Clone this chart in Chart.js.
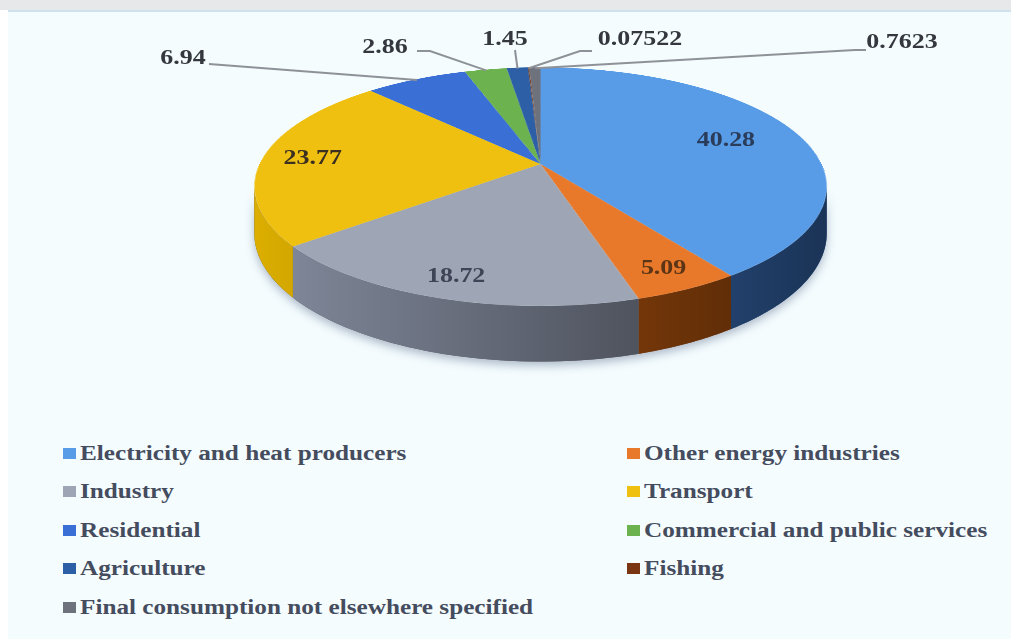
<!DOCTYPE html>
<html>
<head>
<meta charset="utf-8">
<title>CO2 emissions by sector</title>
<script src="https://cdn.jsdelivr.net/npm/chart.js@4.4.1/dist/chart.umd.min.js"></script>
<style>
    html, body { margin: 0; padding: 0; background: #fff; }
    body { width: 1011px; height: 639px; position: relative; overflow: hidden; font-family: "Liberation Serif", "Times New Roman", serif; }
    #strip { position: absolute; left: 0; top: 0; width: 1011px; height: 10px; background: #e7e8e9; }
    #panel { position: absolute; left: 8px; top: 10px; right: 0; bottom: 0; background: #f4fcfe; border-top: 2px solid #cfe0ee; }
    #chart-box { position: absolute; left: 0; top: 0; width: 1011px; height: 420px; }
    .item { position: absolute; display: flex; align-items: center; height: 24px; white-space: nowrap; }
    .swatch { width: 13px; height: 11px; margin-right: 4px; flex: none; }
    .text { font-weight: bold; font-size: 20px; color: #444c5e; transform: scaleX(1.26); transform-origin: left center; }
</style>
</head>
<body>
<div id="strip"></div>
<div id="panel"></div>
<div id="chart-box"><canvas id="chart"></canvas></div>
<div id="legend"></div>

<script>
const sectors = [
    'Electricity and heat producers',
    'Other energy industries',
    'Industry',
    'Transport',
    'Residential',
    'Commercial and public services',
    'Agriculture',
    'Fishing',
    'Final consumption not elsewhere specified',
];
const shares = [40.28, 5.09, 18.72, 23.77, 6.94, 2.86, 1.45, 0.07522, 0.7623];

const topColors = ['#589be6', '#e8782a', '#9ea6b6', '#efc010', '#3a6fd6', '#6cb24e', '#2c5fa6', '#7a3612', '#6e727c'];
const sideColors = ['#4280d6', '#c15b0f', '#838b9d', '#dcae00', '#2d58b0', '#4f8a36', '#1f4a86', '#5a280c', '#51555e'];
const insideInk = ['#2a3c5a', '#5b3515', '#3f4557', '#3c3020'];

// where each value label goes: inside at a fraction of the radius, or outside with a leader
const labelSpots = [
    { inside: 0.72 },
    { inside: 0.86 },
    { inside: 0.86 },
    { inside: 0.82 },
    { x: 183, y: 58, lead: [[209, 64]] },
    { x: 385, y: 47, lead: [[417, 51], [430, 51]] },
    { x: 505, y: 39, lead: [[515, 50]] },
    { x: 640, y: 39, lead: [[592, 51], [580, 51]] },
    { x: 902, y: 42, lead: [[866, 50], [855, 50]] },
];

// tilt of the pie: half width, half height, perspective and wall depth
const view = { spreadX: 281, spreadY: 115, persp: 0.19, depth: 45 };

const legendCols = [63, 627];
const legendRows = [453, 491.5, 530, 568.5, 607];

function project(arc, angle, frac, drop) {
    const X = frac * Math.cos(angle);
    const Z = -frac * Math.sin(angle);
    const s = 1 / (1 + view.persp * Z);
    return {
        x: arc.x + view.spreadX * X * s,
        y: arc.y - view.spreadY * Z * s + drop * view.depth * s,
    };
}

function wallPath(ctx, arc, a0, a1) {
    const n = 48;
    ctx.beginPath();
    for (let j = 0; j <= n; j++) {
        const p = project(arc, a0 + (a1 - a0) * j / n, 1, 0);
        j ? ctx.lineTo(p.x, p.y) : ctx.moveTo(p.x, p.y);
    }
    for (let j = n; j >= 0; j--) {
        const p = project(arc, a0 + (a1 - a0) * j / n, 1, 1);
        ctx.lineTo(p.x, p.y);
    }
    ctx.closePath();
}

const tiltedPie = {
    id: 'tiltedPie',
    beforeDatasetsDraw(chart) {
        const arcs = chart.getDatasetMeta(0).data;
        const ctx = chart.ctx;
        const c = arcs[0];
        const R = c.outerRadius;
        const k = view.persp, A = view.spreadY, B = view.spreadX;

        // flat pie drawn by the arc elements themselves
        const off = document.createElement('canvas');
        off.width = off.height = Math.ceil(2 * R);
        const octx = off.getContext('2d');
        octx.translate(R - c.x, R - c.y);
        arcs.forEach(a => a.draw(octx));

        // front walls
        const lo = Math.asin(k), hi = Math.PI - lo;
        ctx.save();
        wallPath(ctx, c, lo, hi);
        ctx.shadowColor = 'rgba(40, 60, 100, 0.35)';
        ctx.shadowBlur = 10;
        ctx.shadowOffsetY = 4;
        ctx.fillStyle = '#555';
        ctx.fill();
        ctx.restore();

        const shade = ctx.createLinearGradient(c.x - B * 1.02, 0, c.x + B * 1.02, 0);
        shade.addColorStop(0, 'rgba(0,0,0,0)');
        shade.addColorStop(1, 'rgba(0,0,0,0.6)');
        arcs.forEach((a, i) => {
            const s = Math.max(a.startAngle, lo), e = Math.min(a.endAngle, hi);
            if (e <= s) return;
            wallPath(ctx, c, s, e);
            ctx.fillStyle = sideColors[i];
            ctx.fill();
            ctx.fillStyle = shade;
            ctx.fill();
        });

        // top face, row by row in perspective
        const zAt = y => Math.max(-1, Math.min(1, -(y - c.y) / (A + k * (y - c.y))));
        const yTop = Math.floor(c.y - A / (1 + k));
        const yBot = Math.ceil(c.y + A / (1 - k));
        for (let y = yTop; y < yBot; y++) {
            const s0 = R - zAt(y) * R;
            const s1 = R - zAt(y + 1) * R;
            if (s1 - s0 <= 0) continue;
            const w = B / (1 + k * zAt(y + 0.5));
            ctx.drawImage(off, 0, s0, 2 * R, s1 - s0, c.x - w, y, 2 * w, 1);
        }
        return false;
    },
};

function stretchedText(ctx, text, x, y, color) {
    ctx.save();
    ctx.translate(x, y);
    ctx.scale(1.18, 1);
    ctx.fillStyle = color;
    ctx.fillText(text, 0, 0);
    ctx.restore();
}

const sliceLabels = {
    id: 'sliceLabels',
    afterDraw(chart) {
        const arcs = chart.getDatasetMeta(0).data;
        const ctx = chart.ctx;
        ctx.save();
        ctx.font = 'bold 22px "Liberation Serif", "Times New Roman", serif';
        ctx.textAlign = 'center';
        ctx.textBaseline = 'middle';
        arcs.forEach((a, i) => {
            const mid = (a.startAngle + a.endAngle) / 2;
            const text = String(shares[i]);
            const spot = labelSpots[i];
            if (spot.inside) {
                const p = project(a, mid, spot.inside, 0);
                stretchedText(ctx, text, p.x, p.y, insideInk[i]);
                return;
            }
            const rim = project(a, mid, 0.99, 0);
            ctx.beginPath();
            spot.lead.forEach(([x, y], j) => j ? ctx.lineTo(x, y) : ctx.moveTo(x, y));
            ctx.lineTo(rim.x, rim.y);
            ctx.strokeStyle = '#8e9298';
            ctx.lineWidth = 2;
            ctx.stroke();
            stretchedText(ctx, text, spot.x, spot.y, '#34373e');
        });
        ctx.restore();
    },
};

new Chart(document.getElementById('chart'), {
    type: 'pie',
    data: {
        labels: sectors,
        datasets: [{
            data: shares,
            backgroundColor: topColors,
            borderWidth: 0,
            radius: 300,
        }],
    },
    options: {
        responsive: true,
        maintainAspectRatio: false,
        animation: false,
        events: [],
        layout: { padding: { left: 70, bottom: 92 } },
        plugins: {
            legend: { display: false },
            tooltip: { enabled: false },
        },
    },
    plugins: [tiltedPie, sliceLabels],
});

// two-column legend under the pie
const legend = document.getElementById('legend');
sectors.forEach((name, i) => {
    const item = document.createElement('div');
    item.className = 'item';
    item.style.left = legendCols[i % 2] + 'px';
    item.style.top = (legendRows[Math.floor(i / 2)] - 12) + 'px';
    item.innerHTML = `<span class="swatch" style="background:${topColors[i]}"></span><span class="text">${name}</span>`;
    legend.appendChild(item);
});
</script>
</body>
</html>
